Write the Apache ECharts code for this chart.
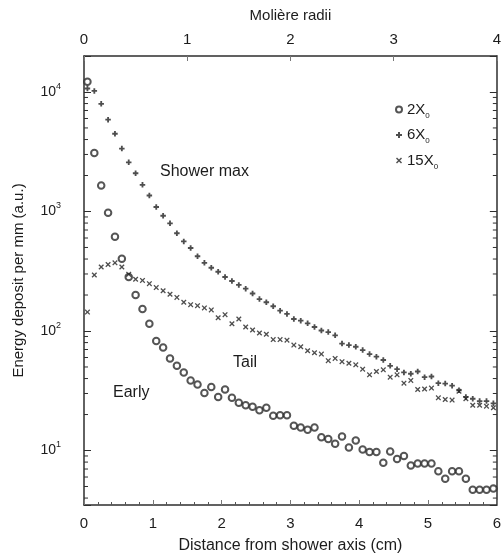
<!DOCTYPE html>
<html>
<head>
<meta charset="utf-8">
<script src="https://cdn.jsdelivr.net/npm/echarts@6/dist/echarts.min.js"></script>
<style>
  html, body { margin: 0; padding: 0; background: #fff; }
  #chart { width: 504px; height: 559px; }
</style>
</head>
<body>
<div id="chart"></div>
<script>
// Radial bin centres (cm from the shower axis)
const radialBins = [
  0.05, 0.15, 0.25, 0.35, 0.45, 0.55, 0.65, 0.75, 0.85, 0.95,
  1.05, 1.15, 1.25, 1.35, 1.45, 1.55, 1.65, 1.75, 1.85, 1.95,
  2.05, 2.15, 2.25, 2.35, 2.45, 2.55, 2.65, 2.75, 2.85, 2.95,
  3.05, 3.15, 3.25, 3.35, 3.45, 3.55, 3.65, 3.75, 3.85, 3.95,
  4.05, 4.15, 4.25, 4.35, 4.45, 4.55, 4.65, 4.75, 4.85, 4.95,
  5.05, 5.15, 5.25, 5.35, 5.45, 5.55, 5.65, 5.75, 5.85, 5.95
];

// Energy deposit per mm (a.u.) at three depths
const depositEarly2X0 = [
  12200, 3080, 1650, 975, 614, 403, 283, 200, 153, 115,
  82.6, 72.7, 59.0, 51.1, 45.0, 38.6, 35.6, 30.3, 34.0, 28.1,
  32.4, 27.6, 25.1, 23.9, 23.2, 21.7, 22.8, 19.5, 19.7, 19.7,
  16.1, 15.6, 14.9, 15.6, 12.9, 12.5, 11.4, 13.1, 10.6, 12.1,
  10.2, 9.7, 9.7, 7.9, 9.8, 8.5, 9.0, 7.5, 7.8, 7.8,
  7.8, 6.7, 5.8, 6.7, 6.7, 5.8, 4.7, 4.7, 4.7, 4.8
];
const depositMax6X0 = [
  10700, 10200, 7960, 5870, 4470, 3360, 2580, 2090, 1670, 1360,
  1090, 921, 796, 658, 562, 495, 422, 372, 338, 313,
  283, 262, 243, 226, 206, 185, 174, 161, 148, 139,
  126, 122, 116, 108, 101, 98, 92, 78.5, 76.2, 73.8,
  69.2, 64.1, 61.0, 57.2, 51.1, 47.9, 45.0, 43.9, 45.8, 41.1,
  41.6, 36.6, 36.3, 34.9, 31.9, 28.1, 27.1, 25.9, 25.9, 24.8
];
const depositTail15X0 = [
  144, 294, 343, 360, 372, 343, 298, 271, 265, 249,
  231, 217, 203, 191, 174, 166, 163, 156, 150, 129,
  137, 115, 126, 108, 102, 96.2, 93.9, 84.8, 84.8, 83.8,
  76.2, 73.8, 68.4, 65.8, 64.1, 56.5, 59.0, 55.4, 53.7, 52.1,
  47.9, 43.0, 45.8, 47.3, 41.1, 43.0, 36.6, 38.6, 32.4, 32.7,
  33.3, 27.6, 26.7, 26.4, 31.3, 27.1, 23.9, 23.9, 23.5, 22.8
];

// Series labels (depth in radiation lengths)
const seriesNames = ['2X₀', '6X₀', '15X₀'];

// Log-axis decades that carry a label, and the minor ticks between them
const decadeTicks = [10, 100, 1000, 10000];
const minorDepositTicks = [
  4, 5, 6, 7, 8, 9,
  20, 30, 40, 50, 60, 70, 80, 90,
  200, 300, 400, 500, 600, 700, 800, 900,
  2000, 3000, 4000, 5000, 6000, 7000, 8000, 9000
];

const ink = '#1c1c1c';
const frame = '#2e2e2e';
const fontFamily = '"Liberation Sans", Arial, Helvetica, sans-serif';

const symbolPlus = 'path://M2,0H4V2H6V4H4V6H2V4H0V2H2Z';
const symbolCross = 'path://M0,1L1,0L3,2L5,0L6,1L4,3L6,5L5,6L3,4L1,6L0,5L2,3Z';

const pairUp = vals => radialBins.map((x, i) => [x, vals[i]]);

const chart = echarts.init(document.getElementById('chart'), null, { renderer: 'canvas' });

const decadeLabel = v => {
  const e = Math.round(Math.log10(v));
  const isDecade = decadeTicks.some(d => Math.abs(d - v) / d < 1e-6);
  return isDecade ? '{b|10}{s|' + e + '}' : '';
};

const axisLineStyle = { color: frame, width: 1.5 };

chart.setOption({
  animation: false,
  backgroundColor: '#fff',
  textStyle: { fontFamily: fontFamily, color: ink },
  grid: { left: 84, right: 4, top: 56, bottom: 51, containLabel: false },
  xAxis: [
    {
      type: 'value', position: 'bottom', min: 0, max: 6, interval: 1,
      name: 'Distance from shower axis (cm)', nameLocation: 'middle', nameGap: 33,
      nameTextStyle: { fontSize: 16, color: ink, fontFamily: fontFamily },
      axisLine: { show: true, onZero: false, lineStyle: axisLineStyle },
      axisTick: { show: true, inside: true, length: 5, lineStyle: { color: '#777', width: 1 } },
      minorTick: { show: true, splitNumber: 5, length: 3, lineStyle: { color: '#555', width: 1 } },
      axisLabel: { fontSize: 15, margin: 11, color: ink, fontFamily: fontFamily },
      splitLine: { show: false }
    },
    {
      type: 'value', position: 'top', min: 0, max: 4, interval: 1,
      name: 'Molière radii', nameLocation: 'middle', nameGap: 33,
      nameTextStyle: { fontSize: 15, color: ink, fontFamily: fontFamily },
      axisLine: { show: true, onZero: false, lineStyle: axisLineStyle },
      axisTick: { show: true, inside: true, length: 5, lineStyle: { color: '#777', width: 1 } },
      axisLabel: { fontSize: 15, margin: 9, color: ink, fontFamily: fontFamily },
      splitLine: { show: false }
    }
  ],
  yAxis: [
    {
      type: 'log', logBase: 10, min: 3.5, max: 20000, position: 'left',
      name: 'Energy deposit per mm (a.u.)', nameLocation: 'middle', nameGap: 58,
      nameTextStyle: { fontSize: 15, color: ink, fontFamily: fontFamily },
      axisLine: { show: true, onZero: false, lineStyle: axisLineStyle },
      axisTick: { show: true, inside: true, length: 7, lineStyle: { color: frame, width: 1 } },
      axisLabel: {
        margin: 23, color: ink, formatter: decadeLabel,
        rich: {
          b: { fontSize: 14, lineHeight: 20, fontFamily: fontFamily, color: ink },
          s: { fontSize: 9, lineHeight: 10, verticalAlign: 'top', fontFamily: fontFamily, color: ink }
        }
      },
      splitLine: { show: false }
    },
    {
      type: 'log', logBase: 10, min: 3.5, max: 20000, position: 'right',
      axisLine: { show: true, onZero: false, lineStyle: axisLineStyle },
      axisTick: { show: true, inside: true, length: 7, lineStyle: { color: frame, width: 1 } },
      axisLabel: { show: false },
      splitLine: { show: false }
    }
  ],
  legend: {
    data: seriesNames,
    orient: 'vertical', left: 390, top: 97,
    itemWidth: 6, itemHeight: 6, itemGap: 8,
    selectedMode: false,
    formatter: name => '{n|' + name.replace('₀', '') + '}{sub|0}',
    textStyle: {
      color: ink, fontFamily: fontFamily,
      rich: {
        n: { fontSize: 15, lineHeight: 20, fontFamily: fontFamily, color: ink },
        sub: { fontSize: 8, lineHeight: 9, verticalAlign: 'bottom', fontFamily: fontFamily, color: ink }
      }
    }
  },
  graphic: [
    { type: 'text', left: 160, top: 164, style: { text: 'Shower max', font: '16px ' + fontFamily, fill: ink } },
    { type: 'text', left: 233, top: 355, style: { text: 'Tail', font: '16px ' + fontFamily, fill: ink } },
    { type: 'text', left: 113, top: 385, style: { text: 'Early', font: '16px ' + fontFamily, fill: ink } }
  ],
  series: [
    {
      name: seriesNames[0], type: 'scatter', xAxisIndex: 0, yAxisIndex: 0,
      symbol: 'emptyCircle', symbolSize: 6.5,
      itemStyle: { color: '#2a2a2a', borderColor: '#2a2a2a', borderWidth: 1.2 },
      data: pairUp(depositEarly2X0), z: 3
    },
    {
      name: seriesNames[1], type: 'scatter', xAxisIndex: 0, yAxisIndex: 0,
      symbol: symbolPlus, symbolSize: 5.5,
      itemStyle: { color: '#222' },
      data: pairUp(depositMax6X0), z: 3
    },
    {
      name: seriesNames[2], type: 'scatter', xAxisIndex: 0, yAxisIndex: 0,
      symbol: symbolCross, symbolSize: 5.5,
      itemStyle: { color: '#222' },
      data: pairUp(depositTail15X0), z: 3
    },
    {
      // minor log ticks on both vertical frame edges
      type: 'custom', xAxisIndex: 0, yAxisIndex: 0, silent: true, z: 2,
      data: minorDepositTicks.map(v => [0, v]),
      renderItem: (params, api) => {
        const v = api.value(1);
        const left = api.coord([0, v]);
        const right = api.coord([6, v]);
        const style = { stroke: frame, lineWidth: 1 };
        return {
          type: 'group',
          children: [
            { type: 'line', shape: { x1: left[0], y1: left[1], x2: left[0] + 4, y2: left[1] }, style: style },
            { type: 'line', shape: { x1: right[0], y1: right[1], x2: right[0] - 4, y2: right[1] }, style: style }
          ]
        };
      }
    }
  ]
});
</script>
</body>
</html>
